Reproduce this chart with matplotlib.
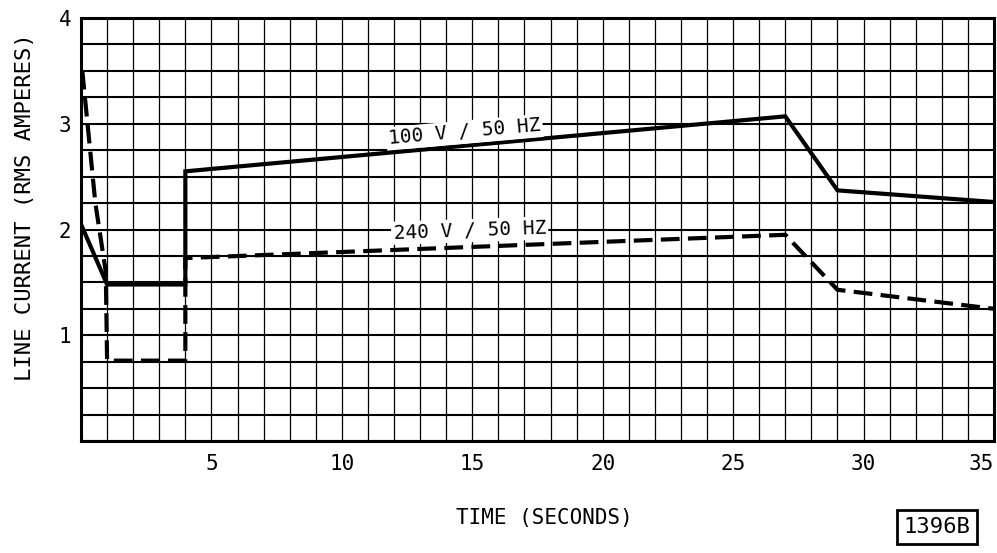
import matplotlib
matplotlib.use("Agg")
import matplotlib.pyplot as plt
from matplotlib.ticker import MultipleLocator, FixedLocator

# ---- data ----
t_100 = [0.0, 1.0, 4.0, 4.0, 27.0, 29.0, 35.0]
i_100 = [2.05, 1.48, 1.48, 2.55, 3.07, 2.37, 2.26]

t_240 = [0.05, 0.55, 0.95, 1.0, 4.0, 4.0, 27.0, 29.0, 35.0]
i_240 = [3.50, 2.25, 1.60, 0.76, 0.76, 1.73, 1.95, 1.43, 1.25]

x_ticks = [5, 10, 15, 20, 25, 30, 35]
y_ticks = [1, 2, 3, 4]
label_100 = "100 V / 50 HZ"
label_240 = "240 V / 50 HZ"
x_title = "TIME (SECONDS)"
y_title = "LINE CURRENT (RMS AMPERES)"
stamp = "1396B"

FONT = "DejaVu Sans Mono"
plt.rcParams["font.family"] = [FONT, "DejaVu Sans"]

fig = plt.figure(figsize=(9.97, 5.53), dpi=100)
ax = fig.add_axes([81/997, 1-441/553, (994-81)/997, (441-18)/553])

ax.set_xlim(0, 35)
ax.set_ylim(0, 4)

# grid
ax.xaxis.set_major_locator(FixedLocator(x_ticks))
ax.xaxis.set_minor_locator(MultipleLocator(1))
ax.yaxis.set_major_locator(FixedLocator(y_ticks))
ax.yaxis.set_minor_locator(MultipleLocator(0.25))
ax.grid(True, axis="x", which="both", color="black", linewidth=0.9)
ax.grid(True, axis="y", which="both", color="black", linewidth=1.5)
ax.set_axisbelow(True)
ax.tick_params(which="both", length=0)
ax.tick_params(axis="x", pad=9, labelsize=15)
ax.tick_params(axis="y", pad=7, labelsize=15)
xlabels = ax.get_xticklabels()
xlabels[-1].set_horizontalalignment("right")
for s in ax.spines.values():
    s.set_linewidth(2.2)
    s.set_color("black")

# lines
ax.plot(t_100, i_100, color="black", linewidth=3.0, solid_joinstyle="miter", zorder=3)
ax.plot(t_240, i_240, color="black", linewidth=3.0, dashes=(4.5, 2.0), zorder=3)

# labels on the curves
ax.text(14.7, 2.92, label_100, fontsize=14, ha="center", va="center",
        rotation=5, rotation_mode="anchor", zorder=4,
        bbox=dict(facecolor="white", edgecolor="none", pad=1.5))
ax.text(14.9, 1.99, label_240, fontsize=14, ha="center", va="center",
        rotation=2, rotation_mode="anchor", zorder=4,
        bbox=dict(facecolor="white", edgecolor="none", pad=1.5))

# axis titles
fig.text(544/997, 1-518/553, x_title, fontsize=15, ha="center", va="center")
fig.text(25/997, 1-207/553, y_title, fontsize=16, ha="center", va="center",
         rotation=90)

# stamp box
fig.text(937/997, 1-527/553, stamp, fontsize=16, ha="center", va="center",
         bbox=dict(boxstyle="square,pad=0.3", facecolor="white",
                   edgecolor="black", linewidth=2))

fig.savefig("out.png", dpi=100)
